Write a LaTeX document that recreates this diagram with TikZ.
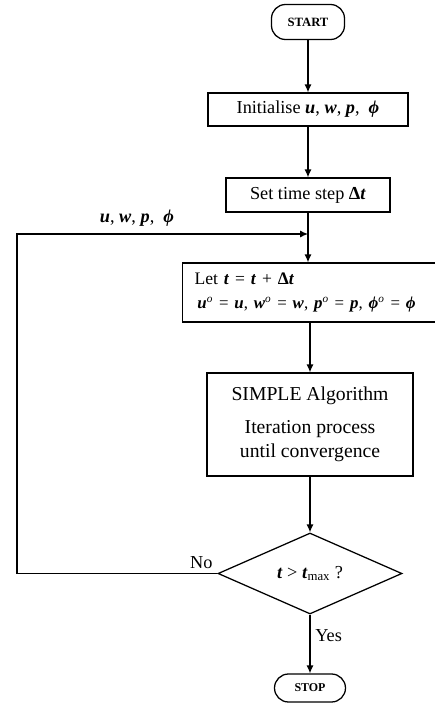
\documentclass[tikz,border=0pt]{standalone}
\usepackage{fontspec}
\setmainfont{Liberation Serif}
\usetikzlibrary{arrows.meta,shapes.geometric}
\newcommand{\vb}[1]{\textbf{\textit{#1}}}
\newcommand{\old}[1]{\vb{#1}\textsuperscript{\textit{o}}}

\tikzset{
  box/.style={draw, line width=0.9pt, inner sep=0pt, font=\fontsize{13}{17}\selectfont},
  term/.style={draw, line width=0.9pt, rounded corners=0.35cm, inner sep=0pt, font=\fontsize{9}{10}\selectfont\bfseries},
  test/.style={draw, diamond, line width=0.9pt, inner sep=0pt, font=\fontsize{13}{15}\selectfont},
  lbl/.style={font=\fontsize{13}{15}\selectfont},
  flow/.style={line width=0.9pt, -{Latex[length=2mm,width=1.8mm]}},
}

\begin{document}
\begin{tikzpicture}
		\useasboundingbox (0,0) rectangle (10.85,-17.575);
		%%%%% START %%%%%
		
		\node[term, minimum width=1.825cm, minimum height=0.875cm] (start) at (7.7, -0.55) {START};
		\node[box, minimum width=5cm, minimum height=0.825cm] (init) at (7.7, -2.7375) {Initialise \vb{u}, \vb{w}, \vb{p}, \ \vb{ϕ}};
		\node[box, minimum width=4.1cm, minimum height=0.85cm] (dt) at (7.7, -4.875) {Set time step \textbf{Δ}\vb{t}};
		
		\coordinate (join) at (7.7, -5.85);
		\coordinate (back) at (0.425, -5.85);
		
		% box runs off the right edge of the page
		\node[box, font=\fontsize{12.5}{17}\selectfont, anchor=west, text width=6.9cm, inner xsep=0.3cm, minimum height=1.475cm, align=left] (update) at (4.55, -7.3125)
			{Let \vb{t} = \vb{t} + \textbf{Δ}\vb{t}\\
			 {\fontsize{12}{17}\selectfont\,\old{u} = \vb{u}, \old{w} = \vb{w}, \old{p} = \vb{p}, \old{ϕ} = \vb{ϕ}}};
		
		\node[box, font=\fontsize{14}{17.5}\selectfont, minimum width=5.15cm, minimum height=2.575cm, align=center] (simple) at (7.75, -10.6125)
			{SIMPLE Algorithm\\[0.2cm] Iteration process\\ until convergence};
		
		\node[test, minimum width=4.6cm, minimum height=2.025cm] (check) at (7.75, -14.3375) {\vb{t} > \vb{t}\textsubscript{max} ?};
		
		\node[term, font=\fontsize{8.5}{10}\selectfont\bfseries, minimum width=1.775cm, minimum height=0.7cm] (stop) at (7.75, -17.2) {STOP};
		
		\draw[flow] (start) -- (init);
		\draw[flow] (init) -- (dt);
		\draw[flow] (dt.south) -- (dt.south |- update.north);
		\draw[flow] (update.south -| simple) -- (simple);
		\draw[flow] (simple) -- (check);
		\draw[flow] (check) -- node[lbl, pos=0.35, right] (yes) {Yes} (stop);
		\draw[flow] (check.west) -| (back) -- (join);
		
		\node[lbl] (vars) at (3.425, -5.45) {\vb{u}, \vb{w}, \vb{p}, \ \vb{ϕ}};
		\node[lbl, anchor=south east] (no) at (check.west) {No};
		
		%%%%% END %%%%%
	\end{tikzpicture}
\end{document}
